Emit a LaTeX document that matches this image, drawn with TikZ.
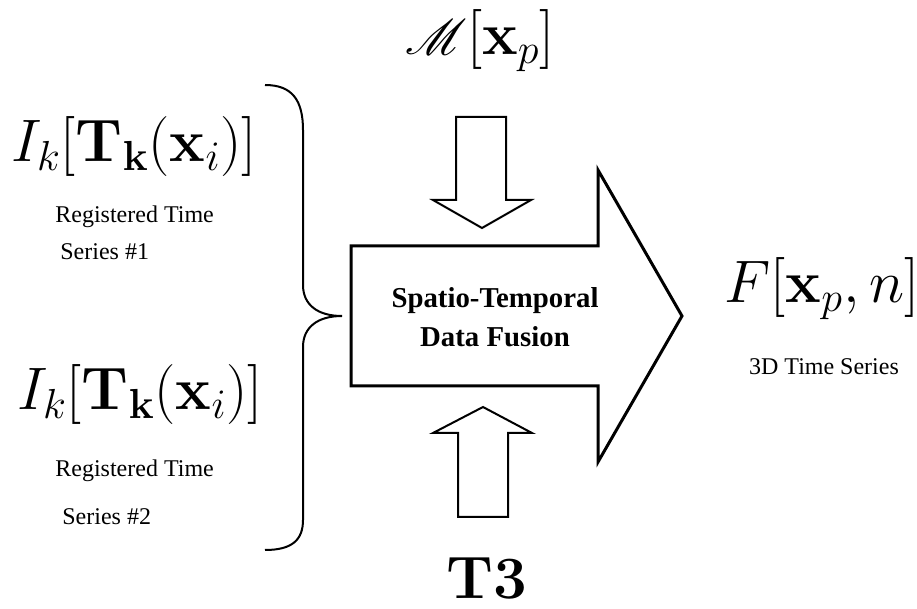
\RequirePackage{fix-cm}
\documentclass[tikz,border=0pt]{standalone}
\usepackage{amsmath,mathrsfs}
\usepackage[no-math]{fontspec}
\setmainfont{Liberation Serif}

\begin{document}
\begin{tikzpicture}[x=0.5pt,y=-0.5pt,
blockarrow/.style={draw,line width=1pt,line join=miter},
bigmath/.style={font=\fontsize{30}{36}\selectfont,inner sep=0pt},
caption/.style={font=\fontsize{12}{14}\selectfont,inner sep=0pt},
fusion/.style={font=\fontsize{14.4}{19.5}\selectfont\bfseries,align=center,inner sep=0pt}]
\useasboundingbox (0,0) rectangle (917,609);
% registered time series on the left
\node[bigmath,anchor=base] (ts1) at (134,162) {$I_k[\mathbf{T}_{\mathbf{k}}(\mathbf{x}_i)]$};
\node[caption,anchor=base west] (reg1) at (55,223) {Registered Time};
\node[caption,anchor=base west] (ser1) at (60,260) {Series \#1};
\node[bigmath,anchor=base] (ts2) at (140,410) {$I_k[\mathbf{T}_{\mathbf{k}}(\mathbf{x}_i)]$};
\node[caption,anchor=base west] (reg2) at (55,477) {Registered Time};
\node[caption,anchor=base west] (ser2) at (62,524) {Series \#2};
% brace gathering both series
\coordinate (bt) at (342,316);
\draw[line width=1pt] (265,85) .. controls (292,85) and (303,100) .. (303,130) -- (303,285)
  .. controls (303,305) and (318,316) .. (bt) .. controls (318,316) and (303,327) .. (303,347)
  -- (303,520) .. controls (303,540) and (292,550) .. (265,550);
% fusion arrow
\draw[blockarrow,line width=1.5pt] (351,246) -- (598,246) -- (598,170) -- (682,316)
  -- (598,462) -- (598,386) -- (351,386) -- cycle;
\node[fusion] (fuse) at (495,317) {Spatio-Temporal\\Data Fusion};
% mask from above, T3 from below
\node[bigmath,anchor=base] (mask) at (480,55) {$\mathscr{M}[\mathbf{x}_p]$};
\draw[blockarrow] (456,117) -- (506,117) -- (506,200) -- (531,200) -- (482,228)
  -- (433,200) -- (456,200) -- cycle;
\draw[blockarrow] (458,517) -- (508,517) -- (508,433) -- (532,433) -- (483,407)
  -- (433,433) -- (458,433) -- cycle;
\node[bigmath,anchor=base] (tthree) at (487,598) {$\mathbf{T3}$};
% output
\node[bigmath,anchor=base] (out) at (822,303) {$F[\mathbf{x}_p,n]$};
\node[caption,anchor=base] (outcap) at (824,375) {3D Time Series};
\end{tikzpicture}
\end{document}
